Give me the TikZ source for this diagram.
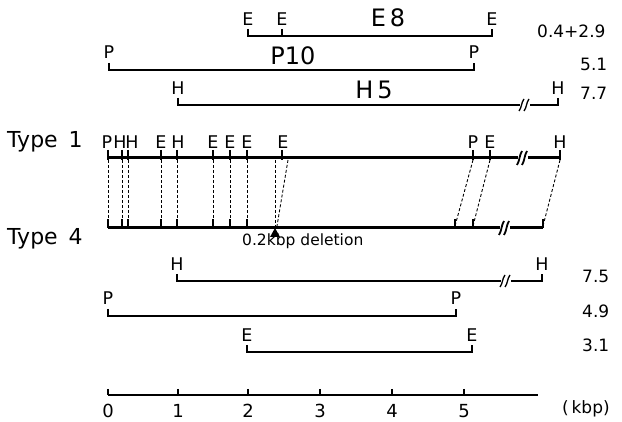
\documentclass[tikz,border=0pt]{standalone}
\usepackage{fontspec}
\setmainfont{DejaVu Sans}
\begin{document}
\begin{tikzpicture}[x=1pt,y=-1pt,
  frag/.style={line width=1.4pt},
  chrom/.style={line width=3pt},
  sitetick/.style={line width=1.5pt},
  conn/.style={line width=0.9pt, dash pattern=on 3pt off 2pt},
  site/.style={inner sep=0pt, font=\fontsize{17.5}{17.5}\selectfont},
  fname/.style={inner sep=0pt, font=\fontsize{24}{24}\selectfont},
  fsize/.style={inner sep=0pt, anchor=west, font=\fontsize{17}{17}\selectfont},
  typelab/.style={inner sep=0pt, anchor=base west, font=\fontsize{22}{22}\selectfont},
  scalelab/.style={inner sep=0pt, font=\fontsize{18}{18}\selectfont},
  brkthin/.pic={\fill[white] (-5,-3) rectangle (5,3);
     \draw[line width=1.3pt] (-6,6) .. controls (-3,2) and (-4,-2) .. (-1,-6);
     \draw[line width=1.3pt] (-1,6) .. controls (2,2) and (1,-2) .. (4,-6);},
  brkthick/.pic={\fill[white] (-5,-3) rectangle (5,3);
     \draw[line width=1.8pt] (-6,7) .. controls (-3,2) and (-4,-2) .. (-1,-7);
     \draw[line width=1.8pt] (-1,7) .. controls (2,2) and (1,-2) .. (4,-7);}
]
\useasboundingbox (0,0) rectangle (622,422);

% ---------- E8 fragment ----------
\draw[frag] (248,29) -- (248,36) -- (492,36) -- (492,29);
\draw[frag] (282,29) -- (282,36);
\node[site] (e8l1) at (248,19) {E};
\node[site] (e8l2) at (282,19) {E};
\node[site] (e8l3) at (492,19) {E};
\node[fname] (e8) at (388,18) {E\,8};
\node[fsize] (s1) at (537,31) {0.4+2.9};

% ---------- P10 fragment ----------
\draw[frag] (109,63) -- (109,70) -- (474,70) -- (474,63);
\node[site] (p10l1) at (109,52) {P};
\node[site] (p10l2) at (474,52) {P};
\node[fname] (p10) at (293,56) {P10};
\node[fsize] (s2) at (580,64) {5.1};

% ---------- H5 fragment ----------
\draw[frag] (178,98) -- (178,105) -- (558,105) -- (558,98);
\pic at (525,105) {brkthin};
\node[site] (h5l1) at (178,88) {H};
\node[site] (h5l2) at (558,88) {H};
\node[fname] (h5) at (374,90) {H\,5};
\node[fsize] (s3) at (580,93) {7.7};

% ---------- Type 1 ----------
\node[typelab] (type1) at (7,148) {Type\hspace{0.5em}1};
\draw[chrom] (108,158) -- (560,158);
\pic at (523,158) {brkthick};
\foreach \k/\xx in {1/108,2/122,3/128,4/161,5/177,6/213,7/230,8/247,9/282,11/473,12/490,13/560}{
  \draw[sitetick] (\xx,150) -- (\xx,160);
  \coordinate (a\k) at (\xx,160);
}
\coordinate (a10) at (275,160);
\coordinate (a14) at (288,160);
\node[site] (la1) at (107,142) {P};
\node[site] (la2) at (120,142) {H};
\node[site] (la3) at (132,142) {H};
\node[site] (la4) at (161,142) {E};
\node[site] (la5) at (178,142) {H};
\node[site] (la6) at (213,142) {E};
\node[site] (la7) at (230,142) {E};
\node[site] (la8) at (247,142) {E};
\node[site] (la9) at (283,142) {E};
\node[site] (la11) at (473,142) {P};
\node[site] (la12) at (490,142) {E};
\node[site] (la13) at (560,142) {H};

% ---------- Type 4 ----------
\node[typelab] (type4) at (7,245) {Type\hspace{0.5em}4};
\draw[chrom] (108,228) -- (543,228);
\pic at (505,228) {brkthick};
\foreach \k/\xx in {1/108,2/122,3/128,4/161,5/177,6/213,7/230,8/247,11/455,12/473,13/543}{
  \draw[sitetick] (\xx,219) -- (\xx,228);
  \coordinate (b\k) at (\xx,226);
}
\coordinate (b10) at (275,226);
\coordinate (b14) at (277,226);

% connectors
\foreach \k in {1,2,3,4,5,6,7,8,10,11,12,13}{
  \draw[conn] (a\k) -- (b\k);
}
\draw[conn] (a14) -- (b14);

% deletion
\fill (275,228) -- (270,237) -- (280,237) -- cycle;
\node[inner sep=0pt, anchor=base west, font=\fontsize{15.5}{15.5}\selectfont] (del) at (242,246) {0.2kbp deletion};

% ---------- lower fragments ----------
\draw[frag] (177,274) -- (177,281) -- (542,281) -- (542,274);
\pic at (506,281) {brkthin};
\node[site] (h4l1) at (177,264) {H};
\node[site] (h4l2) at (542,264) {H};
\node[fsize] (s4) at (582,276) {7.5};

\draw[frag] (108,309) -- (108,316) -- (456,316) -- (456,309);
\node[site] (p4l1) at (108,298) {P};
\node[site] (p4l2) at (456,298) {P};
\node[fsize] (s5) at (582,311) {4.9};

\draw[frag] (247,345) -- (247,352) -- (472,352) -- (472,345);
\node[site] (e4l1) at (247,335) {E};
\node[site] (e4l2) at (472,335) {E};
\node[fsize] (s6) at (582,345) {3.1};

% ---------- scale ----------
\draw[line width=1.8pt] (108,395) -- (538,395);
\foreach \i/\xx in {0/108,1/178,2/248,3/320,4/392,5/464}{
  \draw[line width=1.5pt] (\xx,389) -- (\xx,395);
  \node[scalelab] (t\i) at (\xx,411) {\i};
}
\node[fsize] (kbp) at (562,409) {(\,kbp)};
\end{tikzpicture}
\end{document}
